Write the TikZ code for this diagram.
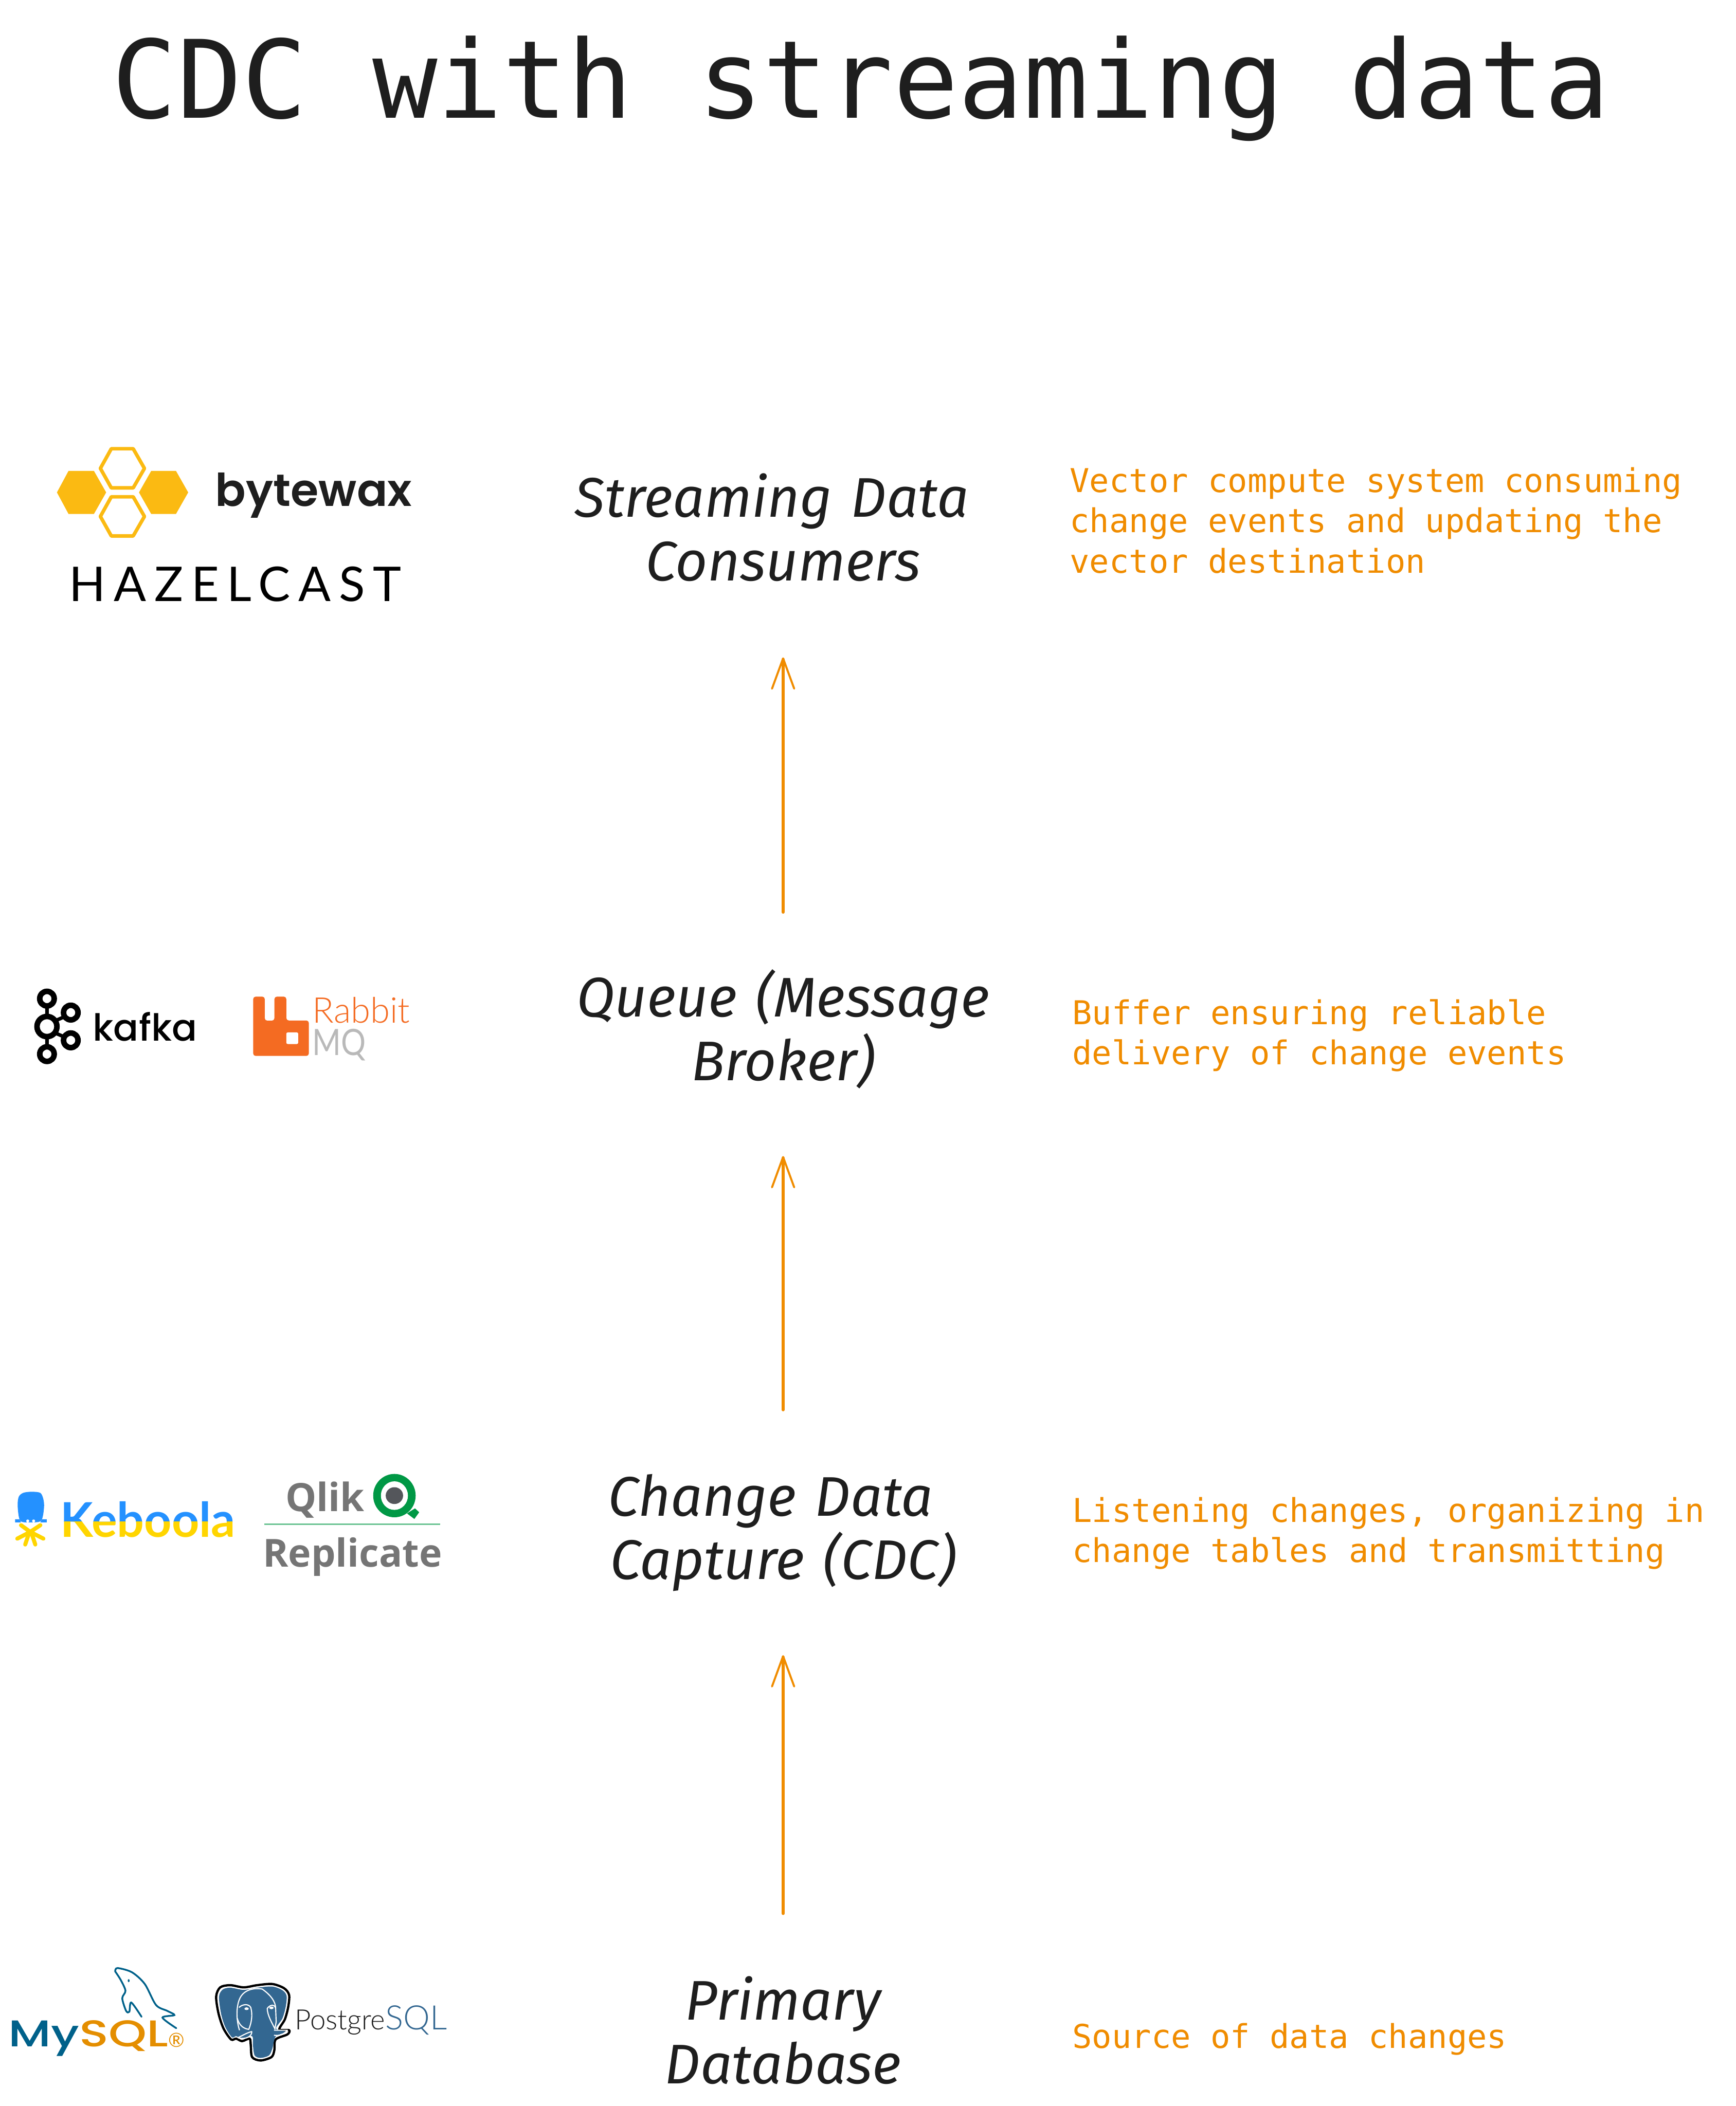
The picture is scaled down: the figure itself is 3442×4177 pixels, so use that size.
\documentclass[tikz,border=0pt]{standalone}
\usepackage{fontspec}
\usepackage{xcolor}
\usetikzlibrary{arrows.meta,positioning}
\setmainfont{Liberation Sans}
\newfontfamily\monofont{DejaVu Sans Mono}
\newfontfamily\handfont{Fira Sans}
\newfontfamily\poppinsfont{Poppins}
\newfontfamily\mediumfont{Poppins Medium}
\newfontfamily\semifont{Poppins SemiBold}
\newfontfamily\mysqlfont{Poppins Medium}[FakeStretch=1.3]
\newfontfamily\latofont{Lato}
\newfontfamily\lightfont{Lato Light}
\newfontfamily\mqfont{Lato}[FakeStretch=0.85]
\newfontfamily\opensansfont{Open Sans}
\definecolor{inkdark}{HTML}{1E1E1E}
\definecolor{noteorange}{HTML}{F08C00}
\definecolor{waxyellow}{HTML}{FBBA12}
\definecolor{rabbitorange}{HTML}{F46B22}
\definecolor{mqgrey}{HTML}{B9B9B9}
\definecolor{kebblue}{HTML}{2491FF}
\definecolor{kebyellow}{HTML}{FFD500}
\definecolor{qlikgrey}{HTML}{757575}
\definecolor{qlikgreen}{HTML}{009845}
\definecolor{qlikline}{HTML}{6CC393}
\definecolor{qlikdot}{HTML}{54565B}
\definecolor{mysqlblue}{HTML}{00618A}
\definecolor{mysqlorange}{HTML}{E48E00}
\definecolor{pgblue}{HTML}{336791}
\tikzset{
  stage/.style={
    align=center,
    inner sep=0pt,
    text width=9cm,
    minimum height=4.62cm,
    text=inkdark,
    font=\handfont\itshape\fontsize{31.5pt}{35.9pt}\selectfont
  },
  note/.style={
    anchor=west,
    align=left,
    inner sep=0pt,
    text=noteorange,
    font=\monofont\fontsize{18.5pt}{22.76pt}\selectfont
  },
  brand/.style={anchor=base west, inner sep=0pt},
  flow/.style={
    -{Straight Barb[length=0.6cm,width=0.44cm,line width=0.04cm,round]},
    line width=0.06cm,
    line cap=round,
    color=noteorange,
    shorten >=0.2cm
  },
  wax/.style={line width=0.07cm, draw=waxyellow, line join=round},
  kring/.style={line width=0.11cm, draw=black},
  klink/.style={line width=0.07cm, draw=black},
  octoleg/.style={line width=0.08cm, draw=kebyellow, line cap=round},
  dolphin/.style={line width=0.035cm, draw=mysqlblue, line cap=round},
  pgline/.style={draw=white, line width=0.022cm, line join=round}
}
\begin{document}
\begin{tikzpicture}[x=0.01cm,y=-0.01cm]
  \useasboundingbox (0,0) rectangle (3442,4177);

  \node[anchor=base, inner sep=0pt, text=inkdark, font=\monofont\fontsize{61pt}{70pt}\selectfont] (title) at (1707,234) {CDC with streaming data};

  \node[stage] (consumers) at (1553,1046) {Streaming Data\rule{0.45cm}{0pt}\\Consumers};
  \node[stage] (queue) at (1553,2041) {Queue (Message\\Broker)};
  \node[stage] (capture) at (1553,3040) {Change Data\rule{0.5cm}{0pt}\\Capture (CDC)};
  \node[stage] (database) at (1553,4027) {Primary\\Database};

  \node[note] (consumersnote) at (2121,1032) {Vector compute system consuming\\change events and updating the\\vector destination};
  \node[note] (queuenote) at (2126,2054) {Buffer ensuring reliable\\delivery of change events};
  \node[note] (capturenote) at (2126,3041) {Listening changes, organizing in\\change tables and transmitting};
  \node[note] (databasenote) at (2126,4044) {Source of data changes};

  \draw[flow, shorten >=0.11cm] (database) -- (capture);
  \draw[flow, shorten <=0.12cm] (capture) -- (queue);
  \draw[flow, shorten >=0.26cm] (queue) -- (consumers);

  % bytewax and hazelcast
  \begin{scope}[shift={(0,820)},xscale=0.638,yscale=0.3333]
    \fill[waxyellow] (177,470) -- (213,342) -- (292,342) -- (330,470) -- (292,598) -- (213,598) -- cycle;
    \fill[waxyellow] (432,470) -- (470,342) -- (547,342) -- (585,470) -- (547,598) -- (470,598) -- cycle;
    \draw[wax] (312,327) -- (346,210) -- (414,210) -- (449,327) -- (414,443) -- (346,443) -- cycle;
    \draw[wax] (312,613) -- (346,496) -- (414,496) -- (449,613) -- (414,729) -- (346,729) -- cycle;
    \node[brand, text=inkdark, font=\semifont\fontsize{25.5pt}{28pt}\selectfont] (bytewax) at (668,552) {bytewax};
    \node[brand, text=black, font=\latofont\addfontfeature{LetterSpace=17}\fontsize{27pt}{30pt}\selectfont] (hazelcast) at (214,1117) {HAZELCAST};
  \end{scope}

  % kafka and rabbitmq
  \begin{scope}[shift={(0,1900)},xscale=0.638,yscale=0.3333]
    \draw[klink] (146,290) -- (146,350) (146,470) -- (146,525) (170,375) -- (200,350) (170,445) -- (200,470);
    \draw[kring] (146,242) ellipse [x radius=22.5, y radius=43.5];
    \draw[kring] (146,572) ellipse [x radius=22.5, y radius=43.5];
    \draw[kring] (220,325) ellipse [x radius=22.5, y radius=43.5];
    \draw[kring] (220,490) ellipse [x radius=22.5, y radius=43.5];
    \draw[kring] (146,408) ellipse [x radius=31, y radius=60];
    \node[brand, text=black, font=\mediumfont\fontsize{21pt}{24pt}\selectfont] (kafka) at (288,493) {kafka};
    \fill[rabbitorange, rounded corners=1.4pt] (787,583) -- (787,230) -- (823,230) -- (823,373) -- (853,373) -- (853,230) -- (890,230) -- (890,372) -- (960,372) -- (960,583) -- cycle;
    \fill[white, rounded corners=0.8pt] (890,443) rectangle (927,512);
    \node[brand, text=rabbitorange, font=\lightfont\fontsize{20pt}{24pt}\selectfont] (rabbit) at (970,388) {Rabbit};
    \node[brand, text=mqgrey, font=\mqfont\fontsize{20.5pt}{24pt}\selectfont] (mq) at (970,580) {MQ};
  \end{scope}

  % keboola and qlik
  \begin{scope}[shift={(0,2930)},scale=0.3333]
    \draw[octoleg] (125,285) -- (180,325) -- (240,285);
    \draw[octoleg] (103,365) -- (180,325) -- (258,365);
    \draw[octoleg] (150,400) -- (175,325) (210,400) -- (185,325);
    \fill[kebblue] plot[smooth cycle] coordinates {(105,170) (112,115) (140,92) (190,86) (240,93) (258,130) (262,180) (245,258) (180,268) (120,258)};
    \fill[kebblue] (90,250) -- (115,250) -- (125,268) -- (90,268) -- cycle;
    \fill[kebblue] (278,250) -- (250,250) -- (240,268) -- (278,268) -- cycle;
    \fill[white] (165,260) circle (9) (200,260) circle (9);
  \end{scope}
  \begin{scope}[shift={(0,2880)},xscale=0.638,yscale=0.3333]
    \begin{scope}
      \clip (150,200) rectangle (800,415);
      \node[brand, text=kebblue, font=\latofont\bfseries\fontsize{27pt}{30pt}\selectfont] (keboolatop) at (187,507) {Keboola};
    \end{scope}
    \begin{scope}
      \clip (150,415) rectangle (800,600);
      \node[brand, text=kebyellow, font=\latofont\bfseries\fontsize{27pt}{30pt}\selectfont] (keboolabottom) at (187,507) {Keboola};
    \end{scope}
    \node[brand, text=qlikgrey, font=\opensansfont\bfseries\fontsize{22pt}{25pt}\selectfont] (qlik) at (886,352) {Qlik};
    \fill[qlikgreen] (1265,365) -- (1290,335) -- (1303,358) -- (1288,398) -- cycle;
    \fill[qlikgreen] (1226,259) ellipse [x radius=66, y radius=129];
    \fill[white] (1226,259) ellipse [x radius=42, y radius=85];
    \fill[qlikdot] (1226,259) ellipse [x radius=27, y radius=50];
    \draw[qlikline, line width=0.03cm] (822,428) -- (1368,428);
    \node[brand, text=qlikgrey, font=\opensansfont\bfseries\fontsize{21.8pt}{25pt}\selectfont] (replicate) at (816,682) {Replicate};
  \end{scope}

  % mysql and postgresql
  \begin{scope}[shift={(0,3860)},xscale=0.638,yscale=0.3333]
    \node[brand, text=mysqlblue, font=\mysqlfont\fontsize{21pt}{24pt}\selectfont] (mysql) at (25,597) {My\textcolor{mysqlorange}{SQL}};
    \node[brand, text=mysqlorange, font=\latofont\fontsize{11pt}{12pt}\selectfont] (mysqlmark) at (522,600) {®};
    \draw[dolphin] plot[smooth] coordinates {(358,150) (365,130) (410,155) (450,225) (485,350) (520,385) (542,410) (505,425) (548,488)};
    \draw[dolphin] plot[smooth] coordinates {(358,150) (375,200) (390,265) (380,310) (392,385) (402,390) (408,335) (440,420)};
    \fill[mysqlblue] (400,205) ellipse [x radius=3, y radius=9];
    \node[brand, text=inkdark, font=\lightfont\fontsize{15.8pt}{18pt}\selectfont] (postgresql) at (915,497) {Postgre\textcolor{pgblue}{\fontsize{19pt}{18pt}\selectfont SQL}};
  \end{scope}
  \begin{scope}[shift={(400,3910)},scale=0.3333]
    \filldraw[draw=black, fill=white, line width=0.045cm] plot[smooth cycle] coordinates {(86,150) (110,95) (170,82) (250,95) (330,82) (420,75) (490,100) (520,140) (515,210) (495,285) (462,345) (520,350) (510,375) (440,405) (432,470) (415,510) (350,530) (300,510) (292,440) (285,400) (240,415) (205,400) (175,405) (130,340) (100,250)};
    \fill[pgblue] plot[smooth cycle] coordinates {(103,150) (125,108) (170,97) (250,110) (330,97) (420,90) (480,112) (505,145) (500,210) (480,280) (442,340) (500,360) (440,388) (420,460) (400,500) (350,515) (315,500) (305,440) (300,385) (240,400) (205,385) (180,392) (140,330) (115,250)};
    \draw[pgline] (225,350) .. controls (205,290) and (205,210) .. (225,165) .. controls (245,115) and (300,95) .. (360,105) .. controls (410,140) and (440,180) .. (440,220) -- (443,300) -- (435,345);
    \draw[pgline] (222,215) .. controls (240,195) and (280,190) .. (292,215) .. controls (305,260) and (295,310) .. (280,345) .. controls (250,340) and (225,325) .. (212,280);
    \draw[pgline] (390,220) .. controls (410,195) and (435,195) .. (440,220) (390,220) .. controls (390,260) and (420,310) .. (435,340);
    \draw[pgline] (215,395) .. controls (245,380) and (270,365) .. (298,358) .. controls (300,385) and (265,408) .. (215,395);
    \draw[pgline] (430,350) -- (510,350) .. controls (490,375) and (460,385) .. (430,380);
    \fill[white] (267,222) ellipse [x radius=13, y radius=8] (415,217) ellipse [x radius=13, y radius=8];
  \end{scope}
\end{tikzpicture}
\end{document}
